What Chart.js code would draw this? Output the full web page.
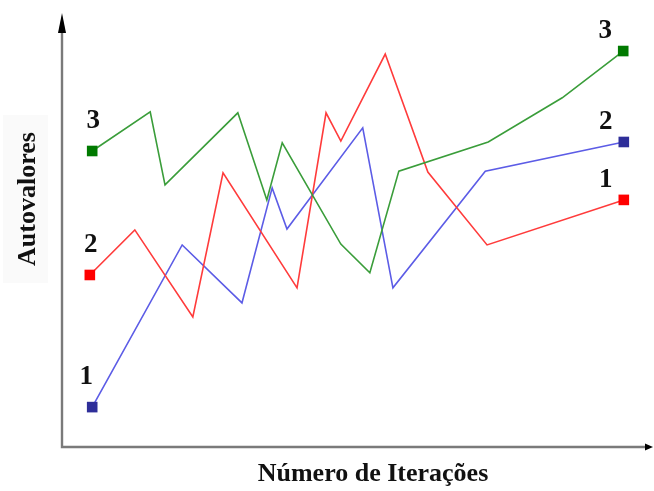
<!DOCTYPE html>
<html lang="pt">
<head>
    <meta charset="UTF-8">
    <title>Autovalores x Número de Iterações</title>
    <script src="https://cdn.jsdelivr.net/npm/chart.js"></script>
    <style>
        html, body { margin: 0; padding: 0; background: #fff; }
        #wrap { position: relative; width: 654px; height: 491px; }
    </style>
</head>
<body>
    <div id="wrap"><canvas id="eigChart"></canvas></div>

    <script>
        // Values (arbitrary units, no ticks shown)
        const greenX = [5.1, 14.9, 17.4, 29.7, 34.6, 37.2, 47.1, 52.0, 56.9, 72.0, 84.5, 94.8];
        const greenY = [69.0, 78.1, 61.1, 77.9, 57.6, 70.9, 47.3, 40.6, 64.3, 71.1, 81.4, 92.3];
        const redX = [4.7, 12.3, 22.1, 27.2, 39.7, 44.6, 47.1, 54.6, 61.8, 71.8, 94.9];
        const redY = [40.1, 50.6, 30.3, 63.9, 37.1, 77.9, 71.3, 91.6, 64.1, 47.1, 57.6];
        const blueX = [5.1, 20.3, 30.4, 35.5, 38.0, 50.8, 55.9, 71.5, 94.9];
        const blueY = [9.3, 47.1, 33.6, 60.4, 50.8, 74.4, 37.1, 64.3, 71.1];

        // labels drawn beside the first and last square of each line
        const startLabels = ['3', '2', '1'];
        const endLabels = ['3', '1', '2'];
        const xTitle = 'Número de Iterações';
        const yTitle = 'Autovalores';

        const toPoints = (xs, ys) => xs.map((x, i) => ({ x: x, y: ys[i] }));
        const endsOnly = (n) => (ctx) => (ctx.dataIndex === 0 || ctx.dataIndex === n - 1) ? 7.5 : 0;

        function series(xs, ys, line, mark) {
            return {
                data: toPoints(xs, ys),
                borderColor: line,
                borderWidth: 1.6,
                pointStyle: 'rect',
                pointRadius: endsOnly(xs.length),
                pointBackgroundColor: mark,
                pointBorderColor: mark,
                pointBorderWidth: 0,
                tension: 0
            };
        }

        // axes with arrows, titles and the 1/2/3 labels
        const decor = {
            id: 'decor',
            afterDraw(chart) {
                const c = chart.ctx;
                const a = chart.chartArea;
                c.save();

                // faint box behind the y title
                c.fillStyle = 'rgba(0,0,0,0.02)';
                c.fillRect(3, 115, 45, 168);

                c.strokeStyle = '#7a7a7a';
                c.lineWidth = 2.4;
                c.beginPath();
                c.moveTo(a.left, 30);
                c.lineTo(a.left, a.bottom);
                c.lineTo(a.right - 6, a.bottom);
                c.stroke();

                c.fillStyle = '#000';
                c.beginPath();
                c.moveTo(a.left, 13);
                c.lineTo(a.left - 4, 33);
                c.lineTo(a.left + 4, 33);
                c.closePath();
                c.fill();
                c.beginPath();
                c.moveTo(a.right - 1, a.bottom);
                c.lineTo(a.right - 9, a.bottom - 3.5);
                c.lineTo(a.right - 9, a.bottom + 3.5);
                c.closePath();
                c.fill();

                c.fillStyle = '#111';
                c.font = 'bold 26px "Liberation Serif", serif';
                c.textAlign = 'center';
                c.textBaseline = 'middle';
                c.fillText(xTitle, 373, 474);
                c.save();
                c.translate(28, 199);
                c.rotate(-Math.PI / 2);
                c.fillText(yTitle, 0, 0);
                c.restore();

                c.font = 'bold 27px "Liberation Serif", serif';
                chart.data.datasets.forEach((ds, i) => {
                    const meta = chart.getDatasetMeta(i);
                    const p0 = meta.data[0];
                    const p1 = meta.data[meta.data.length - 1];
                    const dx0 = startLabels[i] === '1' ? -6 : 1;
                    c.fillText(startLabels[i], p0.x + dx0, p0.y - 30);
                    c.fillText(endLabels[i], p1.x - 18, p1.y - 20);
                });
                c.restore();
            }
        };

        new Chart(document.getElementById('eigChart'), {
            type: 'line',
            data: {
                datasets: [
                    series(greenX, greenY, '#3a9d3a', '#007a00'),
                    series(redX, redY, '#ff3b3b', '#ff0000'),
                    series(blueX, blueY, '#5c5ce6', '#2e2e99')
                ]
            },
            options: {
                responsive: true,
                maintainAspectRatio: false,
                animation: false,
                layout: { autoPadding: false, padding: { left: 62, top: 18, right: 0, bottom: 44 } },
                plugins: { legend: { display: false }, tooltip: { enabled: false } },
                scales: {
                    x: { type: 'linear', min: 0, max: 100, display: false },
                    y: { type: 'linear', min: 0, max: 100, display: false }
                }
            },
            plugins: [decor]
        });
    </script>
</body>
</html>
